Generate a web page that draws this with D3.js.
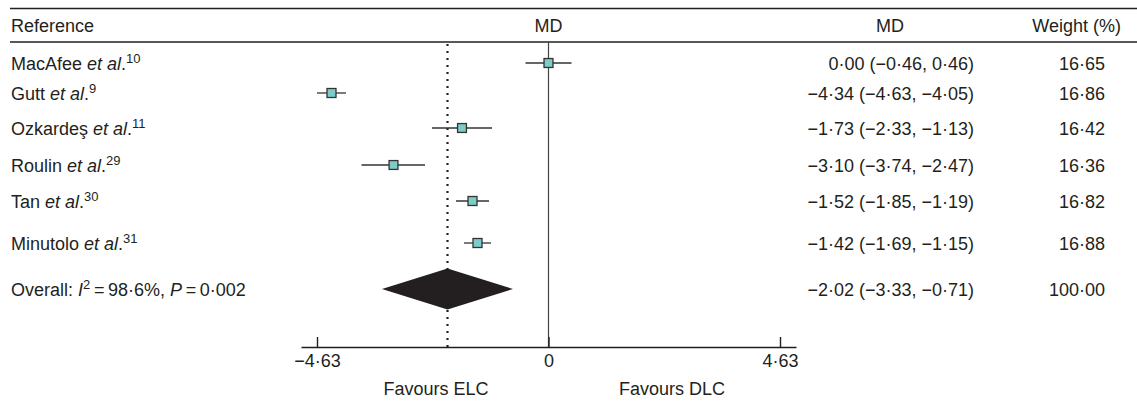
<!DOCTYPE html>
<html>
<head>
<meta charset="utf-8">
<script src="https://cdn.jsdelivr.net/npm/d3@7"></script>
<style>
  body { margin: 0; background: #fff; }
  svg { display: block; font-family: "Liberation Sans", Arial, sans-serif; }
</style>
</head>
<body>
<svg width="1137" height="406"></svg>
<script>
const studies = ['MacAfee', 'Gutt', 'Ozkardeş', 'Roulin', 'Tan', 'Minutolo'];
const refs = ['10', '9', '11', '29', '30', '31'];
const md = [0.00, -4.34, -1.73, -3.10, -1.52, -1.42];
const lower = [-0.46, -4.63, -2.33, -3.74, -1.85, -1.69];
const upper = [0.46, -4.05, -1.13, -2.47, -1.19, -1.15];
const weights = [16.65, 16.86, 16.42, 16.36, 16.82, 16.88];

const overallMd = -2.02;
const overallLower = -3.33;
const overallUpper = -0.71;
const overallWeight = 100.00;

const tickValues = [-4.63, 0, 4.63];

const svg = d3.select('svg');
const ink = '#231f20';
const fontSize = 18;
const supSize = 13;

const data = studies.map((s, i) => ({
    name: s, ref: refs[i], md: md[i], lo: lower[i], hi: upper[i], w: weights[i], row: i
}));

// layout
const headerTop = 8.5, headerBottom = 42, axisY = 347;
const rowY = d3.scaleLinear()
    .domain([0, 1, 2, 3, 4, 5, 6])
    .range([63, 93, 128, 165, 201, 243, 289]);

const xScale = d3.scaleLinear()
    .domain([-4.95, 4.95])
    .range([301, 796]);

const sizeScale = d3.scaleSqrt()
    .domain([0, d3.max(weights)])
    .range([0, 9]);

const fmt = v => d3.format('.2f')(v).replace('-', '\u2013').replace('.', '\u00b7');

// header rules
[headerTop, headerBottom].forEach(y => {
    svg.append('line')
        .attr('x1', 10).attr('x2', 1137)
        .attr('y1', y).attr('y2', y)
        .attr('stroke', ink).attr('stroke-width', 1.3);
});

const headerText = (x, anchor, txt) => svg.append('text')
    .attr('x', x).attr('y', 32)
    .attr('text-anchor', anchor)
    .attr('font-size', fontSize)
    .attr('fill', ink)
    .text(txt);

headerText(11, 'start', 'Reference');
headerText(xScale(0), 'middle', 'MD');
headerText(890, 'middle', 'MD');
headerText(1121, 'end', 'Weight (%)');

// reference lines
svg.append('line')
    .attr('x1', xScale(0)).attr('x2', xScale(0))
    .attr('y1', headerBottom).attr('y2', axisY)
    .attr('stroke', '#444').attr('stroke-width', 1.2);

svg.append('line')
    .attr('x1', xScale(overallMd)).attr('x2', xScale(overallMd))
    .attr('y1', headerBottom + 2).attr('y2', axisY)
    .attr('stroke', ink).attr('stroke-width', 2.2)
    .attr('stroke-dasharray', '2,5');

// axis
const xAxis = d3.axisBottom(xScale)
    .tickValues(tickValues)
    .tickFormat(d => d === 0 ? '0' : fmt(d))
    .tickSize(-10)
    .tickSizeOuter(0)
    .tickPadding(7);

const axisG = svg.append('g')
    .attr('transform', `translate(0, ${axisY})`)
    .call(xAxis);

axisG.select('.domain').attr('stroke', ink).attr('stroke-width', 1.4);
axisG.selectAll('.tick line').attr('stroke', ink).attr('stroke-width', 1.4);
axisG.selectAll('.tick text')
    .attr('font-size', fontSize)
    .attr('font-family', '"Liberation Sans", Arial, sans-serif')
    .attr('fill', ink);

svg.append('text')
    .attr('x', 436).attr('y', 395)
    .attr('text-anchor', 'middle')
    .attr('font-size', fontSize).attr('fill', ink)
    .text('Favours ELC');

svg.append('text')
    .attr('x', 672).attr('y', 395)
    .attr('text-anchor', 'middle')
    .attr('font-size', fontSize).attr('fill', ink)
    .text('Favours DLC');

// study rows
const rows = svg.selectAll('g.row').data(data)
    .enter().append('g')
    .attr('class', 'row');

rows.append('line')
    .attr('x1', d => xScale(d.lo))
    .attr('x2', d => xScale(d.hi))
    .attr('y1', d => rowY(d.row))
    .attr('y2', d => rowY(d.row))
    .attr('stroke', '#333').attr('stroke-width', 1.3);

rows.append('rect')
    .attr('x', d => xScale(d.md) - sizeScale(d.w) / 2)
    .attr('y', d => rowY(d.row) - sizeScale(d.w) / 2)
    .attr('width', d => sizeScale(d.w))
    .attr('height', d => sizeScale(d.w))
    .attr('fill', '#7dccc8')
    .attr('stroke', '#333')
    .attr('stroke-width', 1.3);

const label = rows.append('text')
    .attr('x', 11)
    .attr('y', d => rowY(d.row) + 7)
    .attr('font-size', fontSize)
    .attr('fill', ink);

label.append('tspan').text(d => d.name + ' ');
label.append('tspan').attr('font-style', 'italic').text('et al');
label.append('tspan').text('.');
label.append('tspan')
    .attr('font-size', supSize)
    .attr('dy', -7)
    .text(d => d.ref);

rows.append('text')
    .attr('x', 974)
    .attr('y', d => rowY(d.row) + 6.5)
    .attr('text-anchor', 'end')
    .attr('font-size', fontSize).attr('fill', ink)
    .text(d => `${fmt(d.md)} (${fmt(d.lo)}, ${fmt(d.hi)})`);

rows.append('text')
    .attr('x', 1105)
    .attr('y', d => rowY(d.row) + 6.5)
    .attr('text-anchor', 'end')
    .attr('font-size', fontSize).attr('fill', ink)
    .text(d => fmt(d.w));

// overall row
const oy = rowY(studies.length);
svg.append('path')
    .attr('d', d3.line()([
        [xScale(overallLower), oy],
        [xScale(overallMd), oy - 20.5],
        [xScale(overallUpper), oy],
        [xScale(overallMd), oy + 20.5]
    ]) + 'Z')
    .attr('fill', ink);

const overallLabel = svg.append('text')
    .attr('x', 11).attr('y', oy + 6.5)
    .attr('font-size', fontSize).attr('fill', ink);
overallLabel.append('tspan').text('Overall: ');
overallLabel.append('tspan').attr('font-style', 'italic').text('I');
overallLabel.append('tspan').attr('font-size', supSize).attr('dy', -7).text('2');
overallLabel.append('tspan').attr('dy', 7).text('\u2009=\u200998\u00b76%, ');
overallLabel.append('tspan').attr('font-style', 'italic').text('P');
overallLabel.append('tspan').text('\u2009=\u20090\u00b7002');

svg.append('text')
    .attr('x', 974).attr('y', oy + 6.5)
    .attr('text-anchor', 'end')
    .attr('font-size', fontSize).attr('fill', ink)
    .text(`${fmt(overallMd)} (${fmt(overallLower)}, ${fmt(overallUpper)})`);

svg.append('text')
    .attr('x', 1105).attr('y', oy + 6.5)
    .attr('text-anchor', 'end')
    .attr('font-size', fontSize).attr('fill', ink)
    .text(fmt(overallWeight));
</script>
</body>
</html>
